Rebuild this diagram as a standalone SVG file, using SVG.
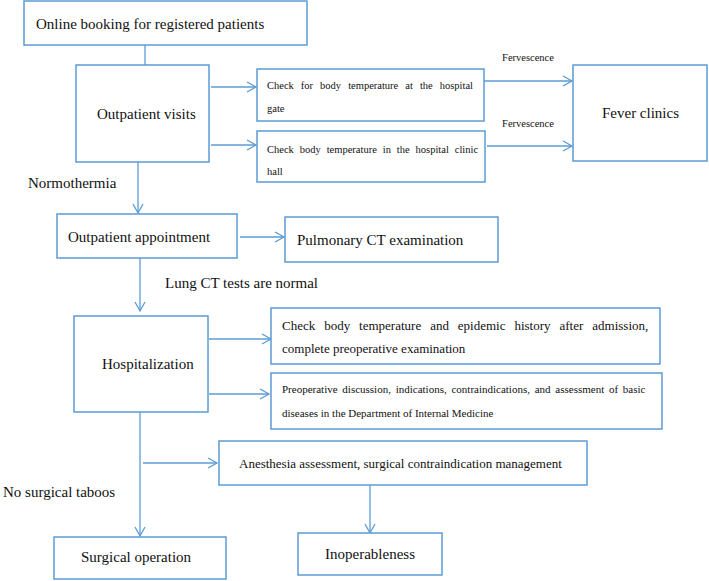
<svg xmlns="http://www.w3.org/2000/svg" width="709" height="581" viewBox="0 0 709 581">
<style>
  .box { fill: #ffffff; stroke: #5b9bd5; stroke-width: 1.5; }
  .ln { fill: none; stroke: #5b9bd5; stroke-width: 1.3; }
  text { font-family: "Liberation Serif", "Times New Roman", serif; fill: #111111; }
  .t15 { font-size: 15px; }
  .t13 { font-size: 13px; }
  .t11 { font-size: 11px; }
  .t10 { font-size: 10.5px; }
</style>
<defs>
  <marker id="arr" markerUnits="userSpaceOnUse" markerWidth="12" markerHeight="12" refX="10" refY="6" orient="auto">
    <path d="M1,1 L10,6 L1,11" fill="none" stroke="#5b9bd5" stroke-width="1.3"/>
  </marker>
</defs>
<rect width="709" height="581" fill="#ffffff"/>

<g id="connectors">
  <line class="ln" x1="145" y1="45" x2="145" y2="65"/>
  <line class="ln" x1="211" y1="87" x2="256" y2="87" marker-end="url(#arr)"/>
  <line class="ln" x1="211" y1="145" x2="256" y2="145" marker-end="url(#arr)"/>
  <line class="ln" x1="484" y1="81" x2="572" y2="81" marker-end="url(#arr)"/>
  <line class="ln" x1="487" y1="146" x2="572" y2="146" marker-end="url(#arr)"/>
  <line class="ln" x1="138" y1="162" x2="138" y2="213" marker-end="url(#arr)"/>
  <line class="ln" x1="240" y1="237" x2="284" y2="237" marker-end="url(#arr)"/>
  <line class="ln" x1="140" y1="258" x2="140" y2="311" marker-end="url(#arr)"/>
  <line class="ln" x1="209" y1="339" x2="271" y2="339" marker-end="url(#arr)"/>
  <line class="ln" x1="209" y1="394" x2="269" y2="394" marker-end="url(#arr)"/>
  <line class="ln" x1="140" y1="412" x2="140" y2="536" marker-end="url(#arr)"/>
  <line class="ln" x1="143" y1="463" x2="217" y2="463" marker-end="url(#arr)"/>
  <line class="ln" x1="370" y1="485" x2="370" y2="533" marker-end="url(#arr)"/>
  <text class="t10" x="528" y="61" text-anchor="middle">Fervescence</text>
  <text class="t10" x="528" y="127" text-anchor="middle">Fervescence</text>
  <text class="t15" x="28" y="188">Normothermia</text>
  <text class="t15" x="165" y="288">Lung CT tests are normal</text>
  <text class="t15" x="3" y="497">No surgical taboos</text>
</g>

<g id="online-booking">
  <rect class="box" x="24" y="1" width="283" height="44"/>
  <text class="t15" x="36" y="29">Online booking for registered patients</text>
</g>

<g id="outpatient-visits">
  <rect class="box" x="76" y="65" width="133" height="97"/>
  <text class="t15" x="97" y="119">Outpatient visits</text>
</g>

<g id="check-gate">
  <rect class="box" x="257" y="69" width="227" height="52"/>
  <text class="t10" x="267" y="89" word-spacing="4.4">Check for body temperature at the hospital</text>
  <text class="t10" x="267" y="112">gate</text>
</g>

<g id="check-hall">
  <rect class="box" x="257" y="131" width="228" height="51"/>
  <text class="t10" x="267" y="153" word-spacing="3.3">Check body temperature in the hospital clinic</text>
  <text class="t10" x="267" y="175">hall</text>
</g>

<g id="fever-clinics">
  <rect class="box" x="573" y="65" width="134" height="96"/>
  <text class="t15" x="640.5" y="118" text-anchor="middle">Fever clinics</text>
</g>

<g id="outpatient-appointment">
  <rect class="box" x="57" y="214" width="180" height="44"/>
  <text class="t15" x="68" y="242">Outpatient appointment</text>
</g>

<g id="pulmonary-ct">
  <rect class="box" x="285" y="217" width="213" height="45"/>
  <text class="t15" x="297" y="245">Pulmonary CT examination</text>
</g>

<g id="hospitalization">
  <rect class="box" x="74" y="316" width="134" height="96"/>
  <text class="t15" x="102" y="369">Hospitalization</text>
</g>

<g id="check-admission">
  <rect class="box" x="271" y="308" width="389" height="56"/>
  <text class="t13" x="282" y="330" word-spacing="5.7">Check body temperature and epidemic history after admission,</text>
  <text class="t13" x="282" y="353">complete preoperative examination</text>
</g>

<g id="preoperative-discussion">
  <rect class="box" x="271" y="373" width="391" height="56"/>
  <text class="t11" x="282" y="393" word-spacing="2">Preoperative discussion, indications, contraindications, and assessment of basic</text>
  <text class="t11" x="282" y="417">diseases in the Department of Internal Medicine</text>
</g>

<g id="anesthesia">
  <rect class="box" x="219" y="441" width="368" height="44"/>
  <text class="t13" x="239" y="468">Anesthesia assessment, surgical contraindication management</text>
</g>

<g id="surgical-operation">
  <rect class="box" x="54" y="537" width="172" height="42"/>
  <text class="t15" x="81" y="562">Surgical operation</text>
</g>

<g id="inoperableness">
  <rect class="box" x="298" y="533" width="144" height="42"/>
  <text class="t15" x="370" y="559" text-anchor="middle">Inoperableness</text>
</g>
</svg>
